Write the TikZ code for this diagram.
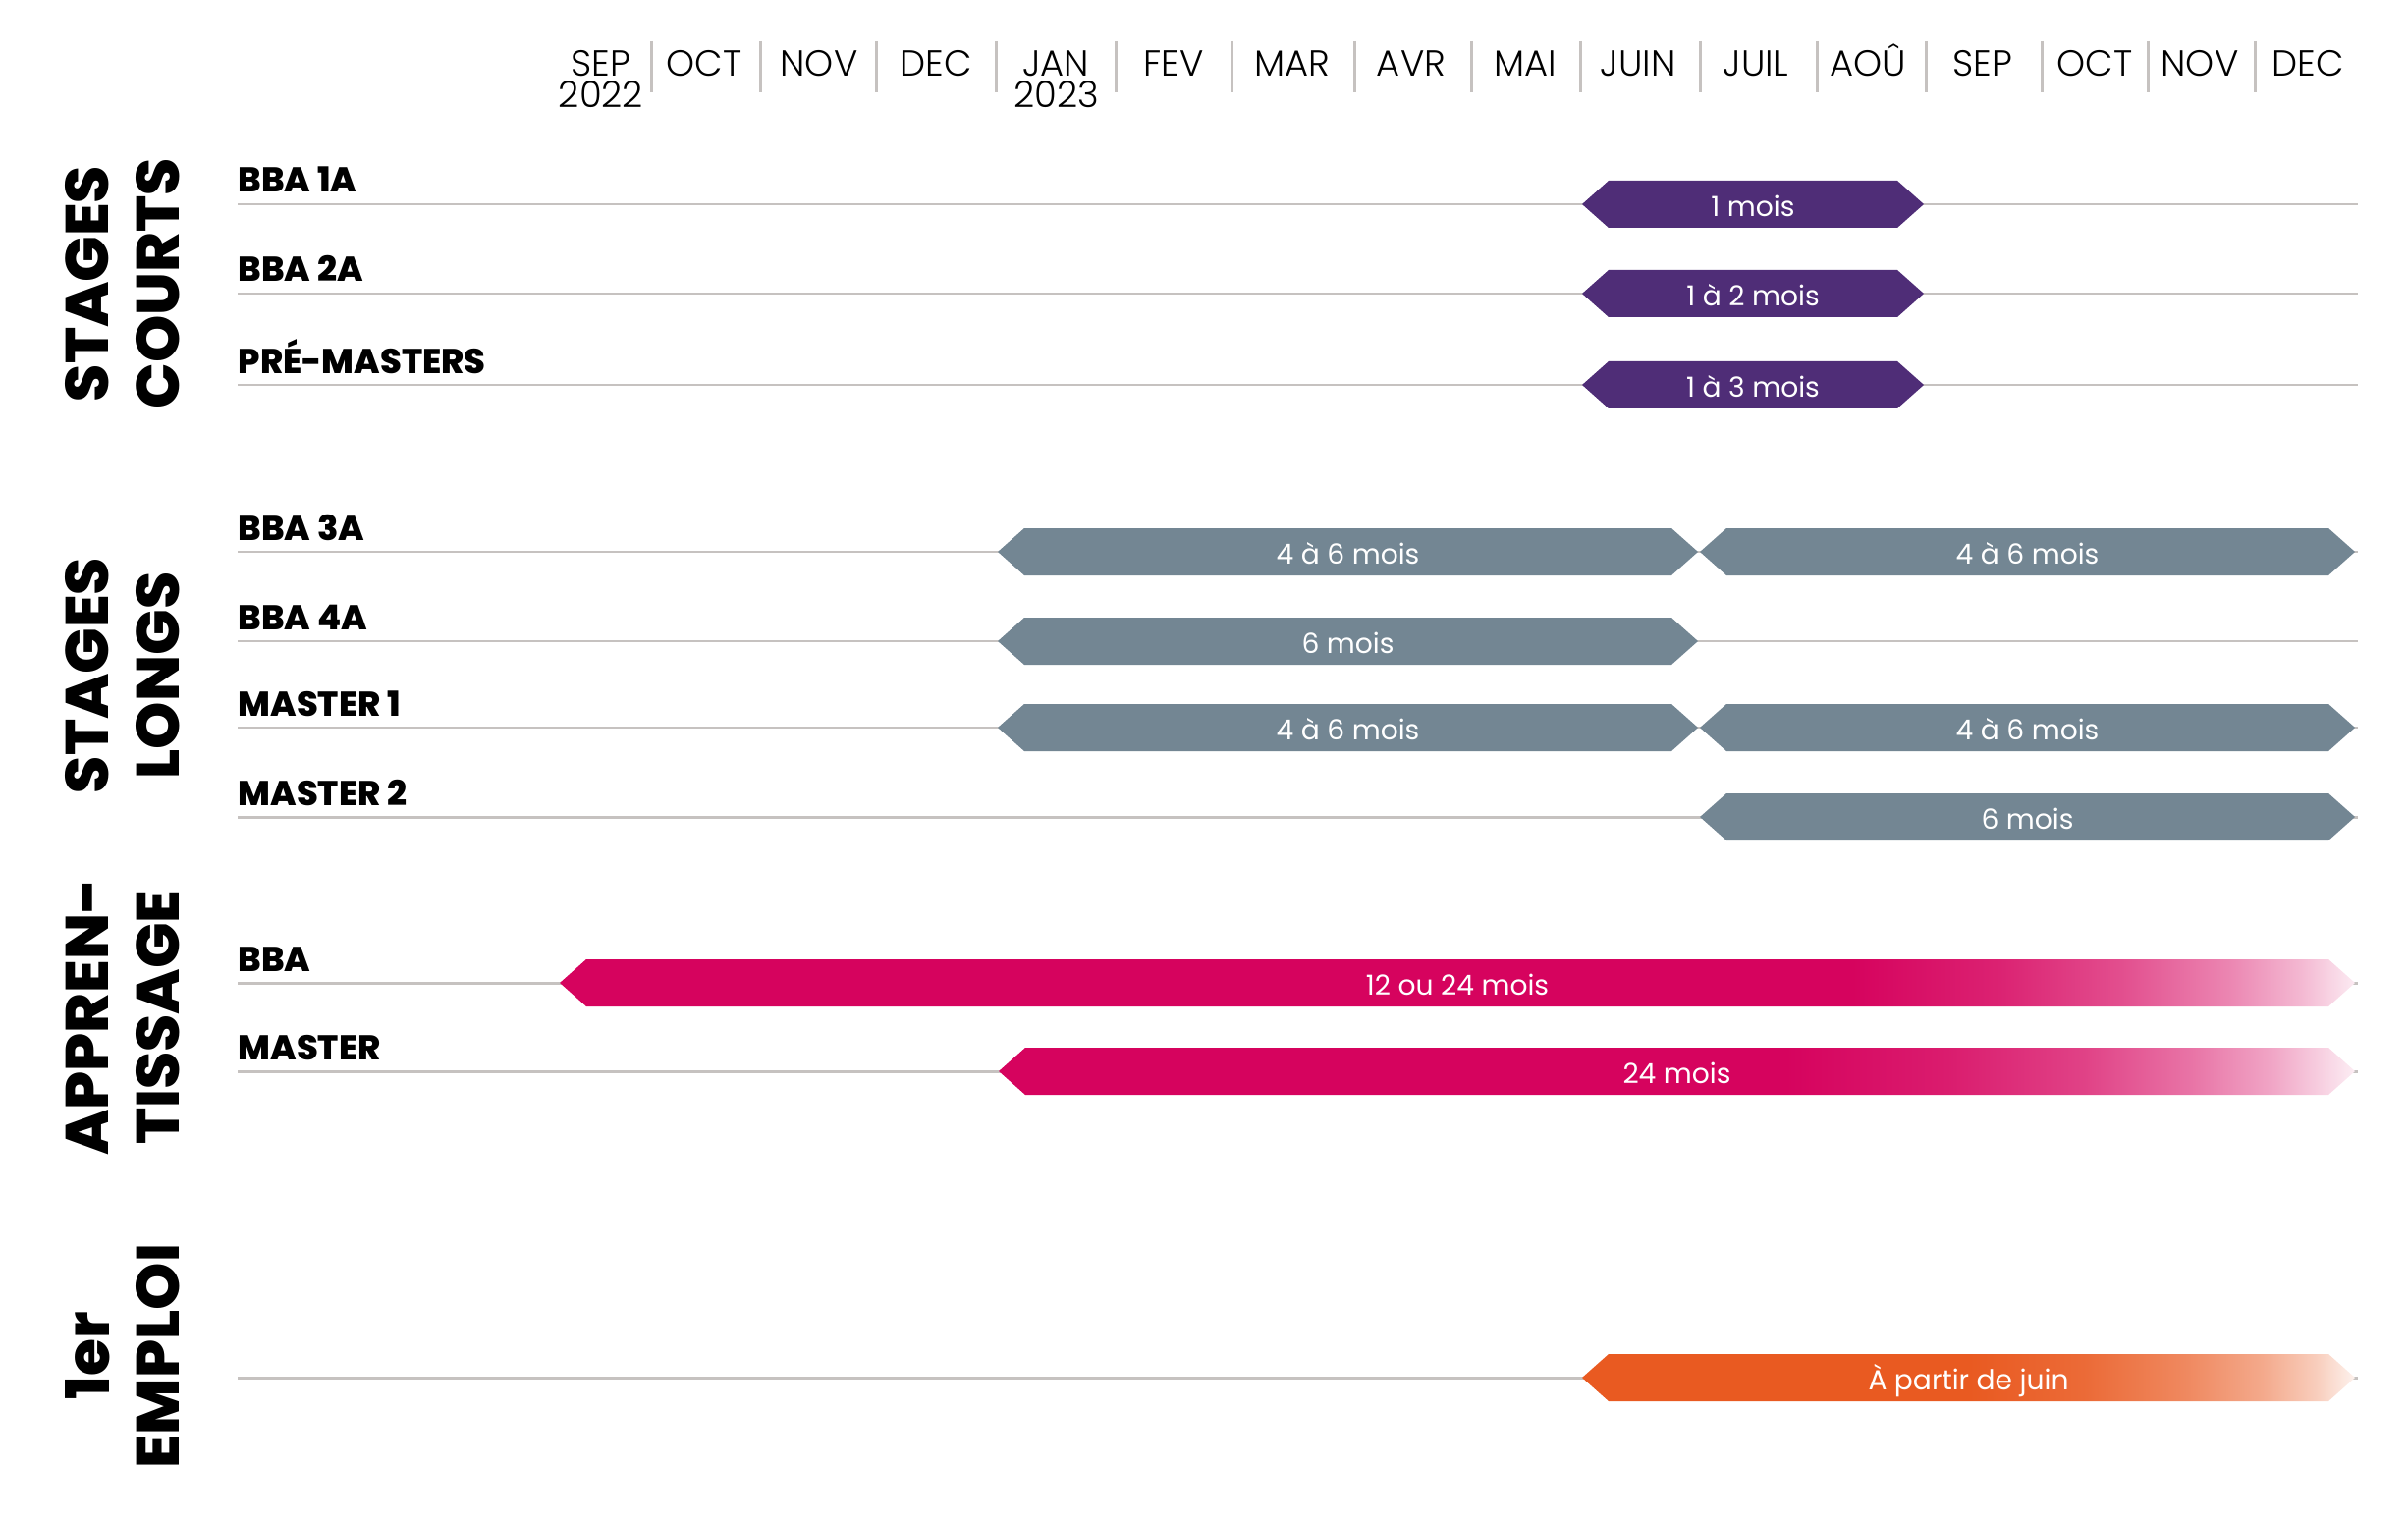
\documentclass[tikz,border=0pt]{standalone}
\usepackage{fontspec}
\setmainfont{Poppins}
\newfontfamily\lightfont{Poppins Light}
\newfontfamily\heavyfont{Poppins ExtraBold}
\usetikzlibrary{positioning}

\definecolor{stpurple}{HTML}{4F2D77}
\definecolor{stslate}{HTML}{738693}
\definecolor{stpink}{HTML}{D6035E}
\definecolor{storange}{HTML}{E95A21}
\definecolor{rulegray}{HTML}{C6C2C0}

% fades at the right end of the open-ended bars
\pgfdeclarehorizontalshading{bbafade}{100bp}{color(0bp)=(stpink); color(61bp)=(stpink);
  color(65bp)=(stpink!88!white); color(68.5bp)=(stpink!70!white); color(71.5bp)=(stpink!48!white);
  color(73.5bp)=(stpink!28!white); color(75bp)=(stpink!8!white); color(100bp)=(stpink!8!white)}
\pgfdeclarehorizontalshading{masterfade}{100bp}{color(0bp)=(stpink); color(54bp)=(stpink);
  color(60bp)=(stpink!90!white); color(65bp)=(stpink!75!white); color(69bp)=(stpink!55!white);
  color(72bp)=(stpink!35!white); color(75bp)=(stpink!7!white); color(100bp)=(stpink!7!white)}
\pgfdeclarehorizontalshading{jobfade}{100bp}{color(0bp)=(storange); color(50bp)=(storange);
  color(57.5bp)=(storange!90!white); color(64bp)=(storange!72!white); color(69bp)=(storange!52!white);
  color(72.5bp)=(storange!30!white); color(75bp)=(storange!8!white); color(100bp)=(storange!8!white)}

% #1 style, #2 name, #3 start, #4 end, #5 row, #6 text
\newcommand{\periode}[6]{%
  \path[#1] (#3,#5) -- (#3+27,#5-24) -- (#4-27,#5-24) -- (#4,#5) -- (#4-27,#5+24) -- (#3+27,#5+24) -- cycle;
  \node[bartext] (#2) at ({(#3+#4)/2},#5) {#6};
}

\begin{document}
\begin{tikzpicture}[x=0.01cm,y=-0.01cm,
  month/.style={font=\lightfont\fontsize{10.5}{12}\selectfont,anchor=base,inner sep=0},
  monthsep/.style={draw=rulegray,line width=0.85pt},
  rowlabel/.style={font=\heavyfont\fontsize{10}{12}\selectfont,anchor=base west,inner sep=0},
  rowline/.style={draw=rulegray,line width=0.85pt},
  section/.style={font=\heavyfont\fontsize{17.5}{20}\selectfont,rotate=90,inner sep=0},
  bartext/.style={text=white,font=\fontsize{8}{9}\selectfont,inner sep=0,text height=7pt,text depth=0pt},
  shortbar/.style={fill=stpurple},
  longbar/.style={fill=stslate},
  apprbba/.style={shade,shading=bbafade},
  apprmaster/.style={shade,shading=masterfade},
  firstjob/.style={shade,shading=jobfade}]
\useasboundingbox (0,0) rectangle (2452,1546);

% months
\foreach \x/\m [count=\i] in {612/SEP,717/OCT,834/NOV,953/DEC,1075/JAN,1195/FEV,1316/MAR,1437/AVR,
    1553/MAI,1668/JUIN,1788/JUIL,1902/AOÛ,2019/SEP,2133/OCT,2240/NOV,2350/DEC}
  \node[month] (m\i) at (\x,78) {\m};
\node[month] (y2022) at (612,110) {2022};
\node[month] (y2023) at (1076,110) {2023};
\foreach \x in {663,774,892,1014,1136,1254,1379,1498,1609,1731,1850,1961,2079,2187,2296}
  \draw[monthsep] (\x,42) -- (\x,94);

% sections
\node[section] (s1a) at (89,289) {STAGES};
\node[section] (s1b) at (161,289) {COURTS};
\node[section] (s2a) at (89,688) {STAGES};
\node[section] (s2b) at (161,688) {LONGS};
\node[section] (s3a) at (89,1036) {APPREN-};
\node[section] (s3b) at (161,1036) {TISSAGE};
\node[section] (s4a) at (89,1381) {1er};
\node[section] (s4b) at (161,1381) {EMPLOI};

% rows
\foreach \y/\lab/\nm in {208/BBA 1A/bba1a,299/BBA 2A/bba2a,392/PRÉ-MASTERS/prem,562/BBA 3A/bba3a,
    653/BBA 4A/bba4a,741/MASTER 1/m1,832/MASTER 2/m2,1001/BBA/abba,1091/MASTER/amaster}{
  \node[rowlabel] (\nm) at (242,\y-12) {\lab};
  \draw[rowline] (242,\y) -- (2401,\y);
}
\draw[rowline] (242,1403) -- (2401,1403);

% bars
\periode{shortbar}{c1}{1611}{1959}{208}{1 mois}
\periode{shortbar}{c2}{1611}{1959}{299}{1 à 2 mois}
\periode{shortbar}{c3}{1611}{1959}{392}{1 à 3 mois}
\periode{longbar}{l1a}{1016}{1729}{562}{4 à 6 mois}
\periode{longbar}{l1b}{1731}{2398}{562}{4 à 6 mois}
\periode{longbar}{l2}{1016}{1729}{653}{6 mois}
\periode{longbar}{l3a}{1016}{1729}{741}{4 à 6 mois}
\periode{longbar}{l3b}{1731}{2398}{741}{4 à 6 mois}
\periode{longbar}{l4}{1731}{2398}{832}{6 mois}
\periode{apprbba}{a1}{570}{2398}{1001}{12 ou 24 mois}
\periode{apprmaster}{a2}{1017}{2398}{1091}{24 mois}
\periode{firstjob}{e1}{1611}{2398}{1403}{À partir de juin}
\end{tikzpicture}
\end{document}
